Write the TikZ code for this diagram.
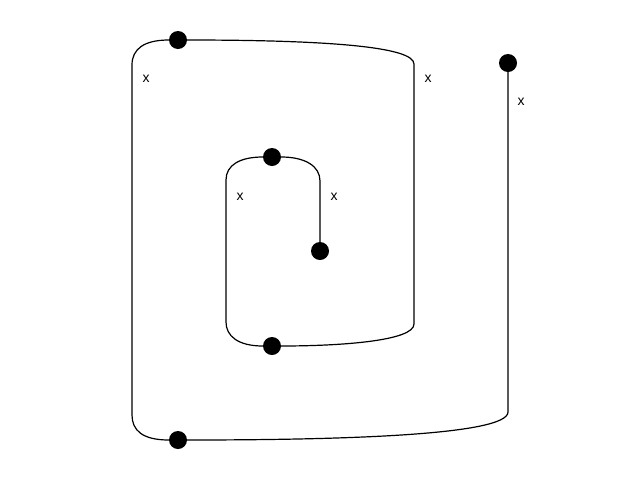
\documentclass[tikz,border=0pt]{standalone}
\usepackage{fontspec}
\setmainfont{Liberation Sans}
\begin{document}
\begin{tikzpicture}[x=1pt,y=-1pt,
  dot/.style={circle,fill=black,inner sep=0pt,minimum size=18pt},
  lbl/.style={font=\fontsize{14}{16}\selectfont,inner sep=0pt},
  edge/.style={draw=black,line width=1.2pt}]
\useasboundingbox (0,0) rectangle (640,480);
\node[dot] (s) at (508,63) {};
\node[dot] (b) at (178,440) {};
\node[dot] (t) at (178,40) {};
\node[dot] (m) at (272,346) {};
\node[dot] (u) at (272,157) {};
\node[dot] (e) at (320,251) {};
\path[edge] (s) -- (508,412) .. controls (508,436) and (330,440) .. (b);
\path[edge] (b) .. controls (142,440) and (132,430) .. (132,415) -- (132,65) .. controls (132,49) and (144,40) .. (t);
\path[edge] (t) .. controls (330,40) and (414,47) .. (414,64) -- (414,324) .. controls (414,341) and (340,346) .. (m);
\path[edge] (m) .. controls (238,346) and (226,336) .. (226,322) -- (226,180) .. controls (226,165) and (240,157) .. (u);
\path[edge] (u) .. controls (305,157) and (320,166) .. (320,181) -- (e);
\node[lbl] (l1) at (521,102) {x};
\node[lbl] (l2) at (146,79) {x};
\node[lbl] (l3) at (428,79) {x};
\node[lbl] (l4) at (240,197) {x};
\node[lbl] (l5) at (334,197) {x};
\end{tikzpicture}
\end{document}
